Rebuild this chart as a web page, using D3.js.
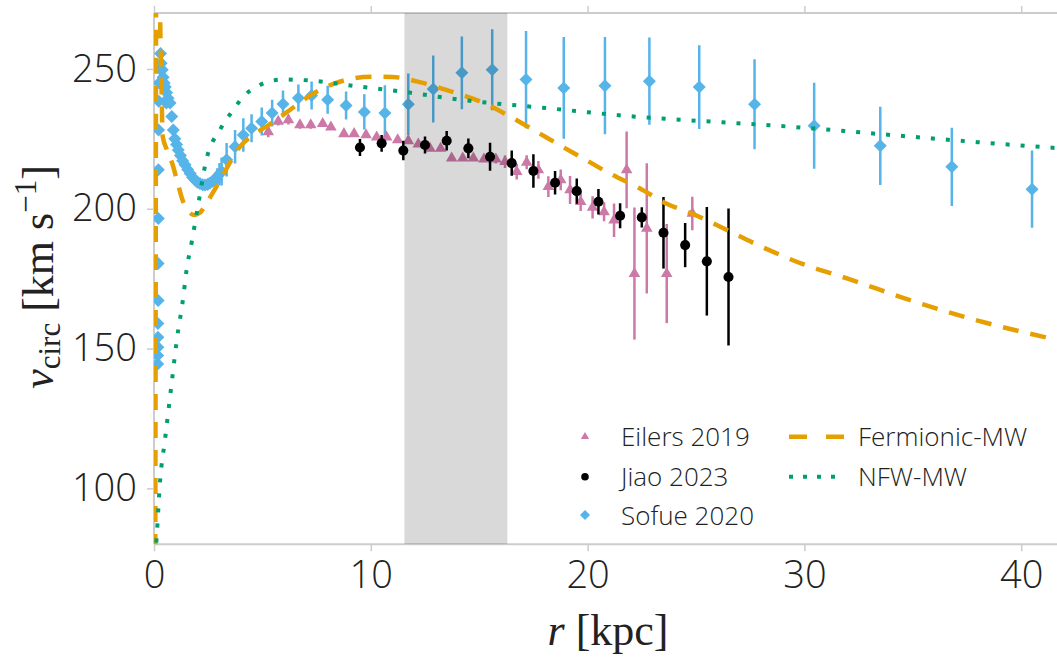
<!DOCTYPE html>
<html>
<head>
<meta charset="utf-8">
<script src="https://cdn.jsdelivr.net/npm/d3@7"></script>
<style>
  body { margin: 0; background: #fff; }
  svg { display: block; }
</style>
</head>
<body>
<svg id="chart" width="1057" height="659"></svg>
<script>
// --- data ---
// Sofue 2020 (diamonds)
const sofueR = [0.17, 0.17, 0.18, 0.18, 0.18, 0.19, 0.19, 0.2, 0.2, 0.21, 0.22, 0.24, 0.27, 0.3, 0.33, 0.38, 0.42,
  0.47, 0.52, 0.57, 0.58, 0.65, 0.74, 0.82, 0.89, 0.96, 1.04, 1.12, 1.22, 1.32, 1.43, 1.55, 1.67, 1.78, 1.89, 2.0,
  2.12, 2.24, 2.35, 2.47, 2.58, 2.7, 2.81, 2.92, 3.02, 3.12,
  3.35, 3.74, 4.12, 4.5, 4.97, 5.45, 5.95, 6.66, 7.27, 8.01, 8.86, 9.7, 10.65, 11.73, 12.88, 14.2, 15.6, 17.16,
  18.9, 20.8, 22.85, 25.15, 27.7, 30.45, 33.5, 36.8, 40.5];
const sofueV = [144.5, 147.5, 150.5, 154, 159, 167.2, 180.4, 196.5, 213.9, 228.2, 238.4, 245, 250, 255.5, 252, 249.7, 247,
  245, 243.5, 237.8, 241.5, 239.5, 237.8, 233, 228.2, 225, 223, 221, 219, 217.2, 215.7, 214, 212.6, 211.3, 210.3, 209.5,
  209, 208.6, 208.5, 208.7, 209.2, 209.8, 210.3, 211.5, 212.4, 213.3,
  217.5, 222.2, 226.4, 228.8, 231.2, 234.2, 237.5, 239.6, 240.5, 239, 236.9, 234.6, 234.2, 237.4, 242.8, 248.6, 249.7, 246.2,
  243.2, 244, 245.6, 243.5, 237.4, 229.7, 222.5, 215, 207];
const sofueErr = [1, 1, 1, 1, 1, 1, 1, 1, 1, 1, 1, 1, 1, 1, 1, 1, 1,
  1, 1, 1, 1, 1, 1, 1, 1, 1, 1, 1, 1, 1, 1, 1, 1, 1, 1, 1,
  1, 1, 1, 1, 1, 1, 2, 3, 4, 5,
  6, 6, 6, 5, 5, 4.8, 4.8, 4.8, 5, 5, 5, 6.3, 10, 11, 12, 13, 14.5, 17.4,
  18.2, 17.4, 15.6, 15, 16.1, 15.4, 14, 14, 13.8];

// Eilers 2019 (triangles)
const eilersR = [5.27, 5.73, 6.2, 6.73, 7.23, 7.78, 8.16, 8.76, 9.23, 9.78, 10.27, 10.73, 11.24, 11.73, 12.19, 12.73,
  13.22, 13.73, 14.24, 14.73, 15.22, 15.77, 16.19, 16.73, 17.19, 17.73, 18.19, 18.76, 19.19, 19.68, 20.23, 20.76,
  21.22, 21.8, 22.16, 22.73, 23.65, 24.83];
const eilersV = [227.5, 231.2, 231.8, 230, 230, 230.4, 229.2, 226.8, 226.8, 226.4, 225.6, 225.6, 224.6, 224.3, 223.1, 221.6,
  221.6, 218.1, 218.1, 218.1, 217.7, 217.7, 216.8, 213.3, 216.6, 213.9, 207.9, 210.3, 206.7, 202.5, 200.5, 198.9,
  195.9, 213.9, 176.8, 193, 176.8, 198.3];
const eilersErr = [1.9, 1.4, 1.7, 1.4, 1.4, 1, 1, 1, 1, 1, 1, 1, 1, 1, 1, 1,
  1, 1, 1, 1, 1, 1.5, 2.2, 2.8, 2.5, 3.2, 3.7, 3.7, 5, 3.3, 4, 3.4,
  6, 13.7, 23.6, 23.3, 17.7, 6];

// Jiao 2023 (circles)
const jiaoR = [9.5, 10.5, 11.5, 12.5, 13.5, 14.5, 15.5, 16.5, 17.5, 18.5, 19.5, 20.5, 21.5, 22.5, 23.5, 24.5, 25.5, 26.5];
const jiaoV = [221.9, 223.4, 220.8, 222.8, 224.3, 221.6, 218.6, 216.3, 213.5, 209.3, 206.3, 202.5, 197.5, 196.9, 191.4, 187, 181.2, 175.6];
const jiaoErr = [3, 3, 3.5, 3, 3.5, 3.5, 5, 4.5, 6, 4.2, 4.5, 4.6, 4.5, 3.6, 12.8, 7.9, 19.4, 24.5];

// Fermionic-MW model
const fermiR = [0.06, 0.08, 0.1, 0.22, 0.33, 0.4, 0.6, 0.85, 1.1, 1.3, 1.6, 1.85, 2.1, 2.5, 3.0, 3.5, 4.0, 4.6, 5.2, 6.3,
  7.3, 8.6, 10, 11, 12.4, 13.8, 15.3, 16.3, 17.5, 18.7, 19.8, 21, 22.4, 23.6, 24.9, 26, 28, 30, 32, 35, 38, 42];
const fermiV = [78, 180, 282, 282, 250, 226, 221, 216, 209, 203.5, 199, 197.8, 198.5, 203, 209.5, 216.5, 222.5, 226.5, 229.5, 235.5,
  241, 245.5, 247.2, 247.1, 245, 241.7, 237.5, 233.5, 228.2, 222.8, 218, 212.7, 207.3, 202, 198, 194, 186.5, 180, 175, 167, 160, 152.5];

// NFW-MW model
const nfwR = [0, 0.12, 0.28, 0.51, 0.82, 1.05, 1.35, 1.5, 1.74, 1.97, 2.43, 3.04, 3.66, 4.2, 4.66, 5.27, 6, 7.3, 9.35,
  11.35, 14.1, 18.1, 22.1, 26.9, 30.3, 34.4, 39, 42];
const nfwV = [70, 82.3, 102.6, 117.6, 138, 152.9, 168.4, 178, 188.1, 198.3, 218, 228.2, 235.4, 240.8, 243.2, 245.5, 246.2, 245.8, 243.8,
  242, 239, 236, 233, 230.6, 228.8, 226.1, 223.2, 221.5];

// shaded radial band
const bandRange = [11.55, 16.3];

const xTicks = [0, 10, 20, 30, 40];
const yTicks = [100, 150, 200, 250];

// --- layout ---
const svg = d3.select('#chart');
const plotLeft = 154, plotTop = 13, plotBottom = 544.3;
const x = d3.scaleLinear().domain([0, 42]).range([plotLeft, plotLeft + 42 * 21.68]);
const y = d3.scaleLinear().domain([80, 270]).range([plotBottom, plotTop]);
const plotRight = x.range()[1];

const colors = { orange: '#E69F00', green: '#009E73', blue: '#56B4E9', pink: '#CC79A7' };
const axisGray = '#cccccc';

// spines go under the data
const spines = svg.append('g').attr('stroke', axisGray).attr('stroke-width', 2);
spines.append('line').attr('x1', plotLeft).attr('x2', plotLeft).attr('y1', plotTop).attr('y2', plotBottom);
spines.append('line').attr('x1', plotLeft).attr('x2', plotRight).attr('y1', plotBottom).attr('y2', plotBottom);
spines.append('line').attr('x1', plotLeft).attr('x2', plotRight).attr('y1', plotTop).attr('y2', plotTop);
spines.append('line').attr('x1', plotRight).attr('x2', plotRight).attr('y1', plotTop).attr('y2', plotBottom);

svg.append('defs').append('clipPath').attr('id', 'plotclip')
  .append('rect').attr('x', plotLeft).attr('y', plotTop)
  .attr('width', plotRight - plotLeft).attr('height', plotBottom - plotTop);

const plot = svg.append('g').attr('clip-path', 'url(#plotclip)');

const diamondPath = (h) => `M0,${-h}L${h},0L0,${h}L${-h},0Z`;

function drawSeries(rs, vs, es, color, shape) {
  const rows = rs.map((r, i) => ({ r: r, v: vs[i], e: es[i] }));
  const g = plot.append('g');
  g.selectAll('line').data(rows).enter().append('line')
    .attr('x1', d => x(d.r)).attr('x2', d => x(d.r))
    .attr('y1', d => y(d.v - d.e)).attr('y2', d => y(d.v + d.e))
    .attr('stroke', color).attr('stroke-width', 2.5);
  g.selectAll('path').data(rows).enter().append('path')
    .attr('d', shape)
    .attr('transform', d => 'translate(' + x(d.r) + ',' + y(d.v) + ')')
    .attr('fill', color);
}

drawSeries(sofueR, sofueV, sofueErr, colors.blue, diamondPath(6.5));
drawSeries(eilersR, eilersV, eilersErr, colors.pink, d3.symbol(d3.symbolTriangle, 58)());
drawSeries(jiaoR, jiaoV, jiaoErr, '#000000', d3.symbol(d3.symbolCircle, 80)());

// shaded band on top of the points
plot.append('rect')
  .attr('x', x(bandRange[0])).attr('y', plotTop)
  .attr('width', x(bandRange[1]) - x(bandRange[0])).attr('height', plotBottom - plotTop)
  .attr('fill', '#000').attr('fill-opacity', 0.15);

const line = d3.line().x(d => x(d[0])).y(d => y(d[1])).curve(d3.curveMonotoneX);

plot.append('path')
  .datum(fermiR.map((r, i) => [r, fermiV[i]]))
  .attr('d', line)
  .attr('fill', 'none').attr('stroke', colors.orange).attr('stroke-width', 4.5)
  .attr('stroke-dasharray', '16,12');

plot.append('path')
  .datum(nfwR.map((r, i) => [r, nfwV[i]]))
  .attr('d', line)
  .attr('fill', 'none').attr('stroke', colors.green).attr('stroke-width', 4)
  .attr('stroke-dasharray', '4,11');

// --- axes ---
const tickFont = "'Open Sans', 'Noto Sans', sans-serif";

function styleAxis(g) {
  g.select('.domain').remove();
  g.selectAll('.tick line').attr('stroke', axisGray).attr('stroke-width', 1.5);
  g.selectAll('.tick text').attr('fill', '#222').attr('font-size', 38)
    .attr('font-family', tickFont).attr('font-weight', 300);
}

svg.append('g').attr('transform', 'translate(0,' + plotBottom + ')')
  .call(d3.axisBottom(x).tickValues(xTicks).tickSize(7).tickPadding(10).tickFormat(d3.format('d')))
  .call(styleAxis);
svg.append('g').attr('transform', 'translate(0,' + plotTop + ')')
  .call(d3.axisTop(x).tickValues(xTicks).tickSize(7).tickFormat(''))
  .call(styleAxis);
svg.append('g').attr('transform', 'translate(' + plotLeft + ',0)')
  .call(d3.axisLeft(y).tickValues(yTicks).tickSize(7).tickPadding(10).tickFormat(d3.format('d')))
  .call(styleAxis);
svg.append('g').attr('transform', 'translate(' + plotRight + ',0)')
  .call(d3.axisRight(y).tickValues(yTicks).tickSize(7).tickFormat(''))
  .call(styleAxis);

// axis labels
const serif = "'Liberation Serif', 'DejaVu Serif', serif";
const xl = svg.append('text').attr('x', 608).attr('y', 645)
  .attr('text-anchor', 'middle').attr('font-family', serif).attr('font-size', 44).attr('fill', '#222');
xl.append('tspan').attr('font-style', 'italic').text('r');
xl.append('tspan').text(' [kpc]');

const yl = svg.append('text')
  .attr('transform', 'translate(53,277) rotate(-90)')
  .attr('text-anchor', 'middle').attr('font-family', serif).attr('font-size', 44).attr('fill', '#222');
yl.append('tspan').attr('font-style', 'italic').text('v');
yl.append('tspan').attr('font-size', 31).attr('dy', 7).text('circ');
yl.append('tspan').attr('dy', -7).text(' [km s');
yl.append('tspan').attr('font-size', 31).attr('dy', -17).text('\u22121');
yl.append('tspan').attr('dy', 17).text(']');

// --- legend ---
const legend = svg.append('g').attr('font-family', tickFont).attr('font-size', 26)
  .attr('font-weight', 300).attr('fill', '#222');
const legendRows = [436.7, 476.7, 515];
const markerEntries = [
  { label: 'Eilers 2019', color: colors.pink, shape: d3.symbol(d3.symbolTriangle, 30)() },
  { label: 'Jiao 2023', color: '#000000', shape: d3.symbol(d3.symbolCircle, 45)() },
  { label: 'Sofue 2020', color: colors.blue, shape: diamondPath(5) }
];
markerEntries.forEach((m, i) => {
  legend.append('path').attr('d', m.shape)
    .attr('transform', 'translate(585,' + legendRows[i] + ')').attr('fill', m.color);
  legend.append('text').attr('x', 621).attr('y', legendRows[i] + 9.5).text(m.label);
});
const lineEntries = [
  { label: 'Fermionic-MW', color: colors.orange, dash: '18,19', width: 4.5 },
  { label: 'NFW-MW', color: colors.green, dash: '4,10', width: 4 }
];
lineEntries.forEach((l, i) => {
  legend.append('line').attr('x1', 789).attr('x2', 845)
    .attr('y1', legendRows[i]).attr('y2', legendRows[i])
    .attr('stroke', l.color).attr('stroke-width', l.width).attr('stroke-dasharray', l.dash);
  legend.append('text').attr('x', 858).attr('y', legendRows[i] + 9.5).text(l.label);
});
</script>
</body>
</html>
